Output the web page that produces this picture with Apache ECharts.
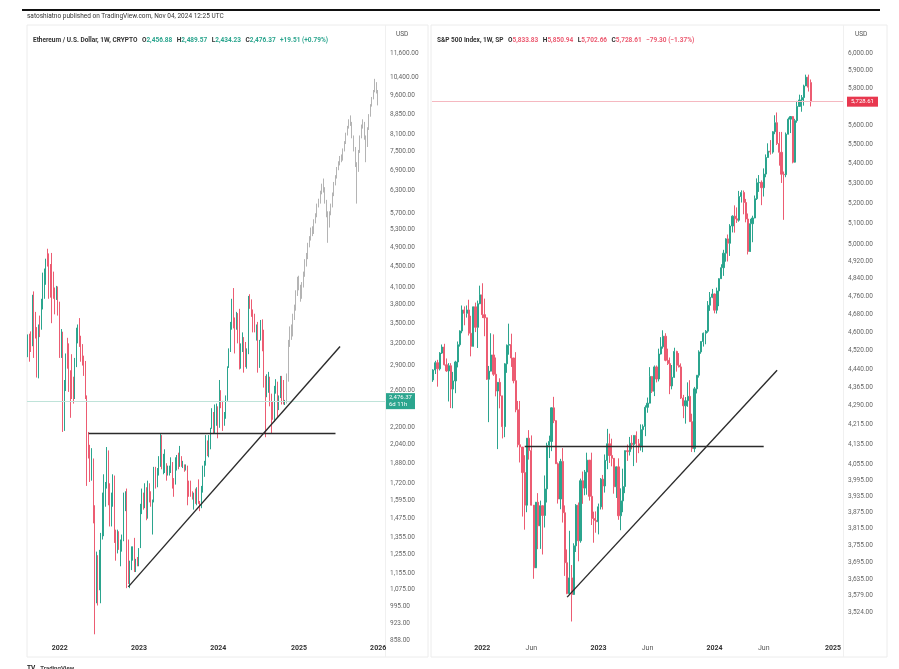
<!DOCTYPE html>
<html lang="en">
<head>
<meta charset="UTF-8">
<title>Ethereum vs S&amp;P 500, 1W</title>
<script src="https://cdn.jsdelivr.net/npm/echarts@6/dist/echarts.min.js"></script>
<style>
  html, body { margin: 0; padding: 0; background: #fff; }
  #main { width: 899px; height: 669px; }
</style>
</head>
<body>
<div id="main"></div>
<script>
// weekly candles, [open, close, low, high]
// ETH from week of 2021-08-09 to week of 2024-11-04
var ethWeeks = [
  [3160,3310,3010,3330],[3310,3240,2950,3340],[3240,3225,3080,3375],[3225,3930,3160,3970],
  [3930,3410,3000,4030],[3410,3330,3270,3680],[3330,3060,2750,3440],[3060,3420,2740,3480],
  [3420,3415,3290,3620],[3415,3850,3400,3900],[3850,4170,3720,4380],[4170,4290,3900,4460],
  [4290,4610,4150,4660],[4610,4570,4500,4870],[4570,4320,3900,4770],[4320,4290,3920,4550],
  [4290,4130,3500,4780],[4130,4060,3900,4400],[4060,3930,3640,4100],[3930,4060,3880,4130],
  [4060,3770,3620,4120],
  // 2022
  [3770,3150,3000,3850],[3150,3330,3000,3410],[3330,2540,2160,3370],[2540,2600,2170,2720],
  [2600,3040,2590,3060],[3040,2880,2860,3280],[2880,2630,2580,3200],[2630,2620,2300,2840],
  [2620,2570,2500,3050],[2570,2520,2450,2760],[2520,2900,2500,3000],[2900,3290,2880,3430],
  [3290,3450,3200,3480],[3450,3260,3150,3580],[3260,3060,2950,3310],[3060,2920,2900,3190],
  [2920,2830,2770,3030],[2830,2520,2500,2960],[2520,2060,1700,2540],[2060,1970,1920,2160],
  [1970,1790,1730,2040],[1790,1810,1740,2010],[1810,1450,1440,1920],[1450,1130,880,1560],
  [1130,1240,1010,1270],[1240,1070,1000,1250],[1070,1160,1070,1280],[1160,1360,1010,1380],
  [1360,1550,1340,1650],[1550,1680,1360,1790],[1680,1700,1550,1730],[1700,1980,1680,2020],
  [1980,1580,1560,1990],[1580,1490,1420,1720],[1490,1580,1420,1650],[1580,1720,1550,1790],
  [1720,1335,1320,1780],[1335,1315,1220,1400],[1315,1325,1260,1400],[1325,1300,1280,1390],
  [1300,1310,1190,1340],[1310,1360,1270,1370],[1360,1580,1330,1650],[1580,1630,1520,1660],
  [1630,1220,1080,1680],[1220,1140,1100,1340],[1140,1200,1080,1220],[1200,1260,1170,1300],
  [1260,1270,1220,1300],[1270,1190,1160,1350],[1190,1220,1160,1230],[1220,1195,1190,1240],
  // 2023
  [1195,1290,1190,1290],[1290,1550,1290,1570],[1550,1630,1500,1680],[1630,1570,1530,1650],
  [1570,1630,1540,1720],[1630,1520,1460,1690],[1520,1690,1470,1740],[1690,1640,1580,1720],
  [1640,1560,1550,1660],[1560,1590,1370,1600],[1590,1810,1580,1850],[1810,1740,1680,1850],
  [1740,1820,1690,1840],[1820,1860,1780,1940],[1860,2090,1850,2140],[2090,1860,1830,2130],
  [1860,1870,1790,1960],[1870,1870,1800,2000],[1870,1800,1740,1880],[1800,1810,1780,1860],
  [1810,1830,1780,1860],[1830,1880,1800,1930],[1880,1750,1680,1890],[1750,1720,1620,1760],
  [1720,1870,1710,1930],[1870,1950,1820,1950],[1950,1860,1830,1970],[1860,1920,1850,2030],
  [1920,1860,1850,1940],[1860,1860,1840,1900],[1860,1830,1810,1870],[1830,1850,1820,1870],
  [1850,1680,1560,1860],[1680,1650,1620,1740],[1650,1630,1620,1740],[1630,1620,1600,1660],
  [1620,1640,1530,1650],[1640,1590,1570,1680],[1590,1670,1560,1690],[1670,1580,1570,1750],
  [1580,1560,1520,1590],[1560,1660,1540,1700],[1660,1780,1650,1860],[1780,1890,1770,1900],
  [1890,2050,1860,2130],[2050,2010,1940,2080],[2010,2080,1930,2130],[2080,2190,2000,2200],
  [2190,2350,2190,2400],[2350,2220,2140,2360],[2220,2270,2150,2440],[2270,2350,2220,2450],
  // 2024
  [2350,2220,2100,2420],[2220,2490,2200,2720],[2490,2460,2400,2600],[2460,2270,2170,2480],
  [2270,2290,2220,2360],[2290,2510,2290,2540],[2510,2880,2480,2890],[2880,3110,2870,3130],
  [3110,3490,3080,3520],[3490,3880,3400,3900],[3880,3520,3420,4090],[3520,3450,3060,3590],
  [3450,3650,3400,3680],[3650,3450,3200,3660],[3450,3100,2850,3730],[3100,3150,2860,3200],
  [3150,3260,3080,3360],[3260,3140,2810,3290],[3140,2930,2880,3220],[2930,3070,2860,3130],
  [3070,3830,3050,3950],[3830,3780,3730,3980],[3780,3680,3600,3890],[3680,3620,3360,3720],
  [3620,3420,3360,3650],[3420,3430,3240,3480],[3430,3000,2810,3520],[3000,3240,2870,3250],
  [3240,3530,3240,3550],[3530,3280,3090,3560],[3280,2690,2630,3400],[2690,2560,2110,2770],
  [2560,2610,2520,2790],[2610,2750,2570,2820],[2750,2430,2420,2760],[2430,2340,2150,2560],
  [2340,2300,2280,2470],[2300,2580,2260,2650],[2580,2660,2560,2730],[2660,2440,2310,2700],
  [2440,2530,2380,2540],[2530,2750,2510,2770],[2750,2510,2440,2770],[2510,2460,2440,2720],
  [2456.88,2476.37,2434.23,2489.57]
];

// grey projected pattern drawn after the last ETH candle
var ethProjection = [
  [2480,2750,2450,2800],[2750,3200,2700,3250],[3200,3400,3150,3450],[3400,3350,3250,3480],
  [3350,3600,3300,3650],[3600,3750,3550,3800],[3750,4000,3700,4050],[4000,4250,3950,4300],
  [4250,4100,4050,4320],[4100,3950,3850,4150],[3950,4150,3900,4200],[4150,4350,4100,4400],
  [4350,4600,4300,4650],[4600,4700,4500,4780],[4700,4950,4650,5000],[4950,5100,4900,5150],
  [5100,5300,5050,5350],[5300,5250,5150,5380],[5250,5500,5200,5550],[5500,5650,5450,5700],
  [5650,5900,5600,5950],[5900,6000,5850,6080],[6000,6250,5950,6300],[6250,6450,6200,6500],
  [6450,6350,6250,6650],[6350,6000,5950,6400],[6000,5700,5600,6050],[5700,5400,5000,5750],
  [5400,5700,5350,5750],[5700,5900,5650,5950],[5900,6200,5850,6250],[6200,6500,6150,6550],
  [6500,6700,6450,6750],[6700,6950,6650,7000],[6950,7100,6900,7180],[7100,7300,7050,7350],
  [7300,7250,7150,7400],[7250,7550,7200,7600],[7550,7800,7500,7850],[7800,8100,7750,8150],
  [8100,8350,8050,8400],[8350,8600,8300,8650],[8600,8500,8400,8800],[8500,8000,7950,8550],
  [8000,7600,7500,8050],[7600,7100,7000,7650],[7100,6900,5950,7150],[6900,7500,6850,7550],
  [7500,8000,7450,8050],[8000,8400,7950,8450],[8400,8500,8300,8650],[8500,8000,7900,8550],
  [8000,7700,7150,8050],[7700,8300,7650,8350],[8300,8800,8250,8850],[8800,9200,8750,9250],
  [9200,9500,9150,9550],[9500,9800,9450,9850],[9800,10100,9750,10350],[10100,9800,9700,10200],
  [9800,9400,9200,9850]
];

// S&P 500 from week of 2021-08-02 to week of 2024-10-28
var spxWeeks = [
  [4395,4437,4387,4440],[4437,4468,4420,4476],[4468,4442,4367,4480],[4442,4509,4435,4513],
  [4509,4535,4505,4546],[4535,4459,4456,4549],[4459,4433,4429,4486],[4433,4455,4306,4466],
  [4455,4357,4279,4466],[4357,4391,4278,4429],[4391,4471,4340,4476],[4471,4545,4448,4559],
  [4545,4605,4537,4608],[4605,4698,4595,4718],[4698,4683,4630,4714],[4683,4698,4664,4718],
  [4698,4595,4585,4744],[4595,4538,4495,4672],[4538,4712,4537,4713],[4712,4621,4600,4731],
  [4621,4726,4531,4740],[4726,4766,4724,4808],
  // 2022
  [4766,4677,4662,4819],[4677,4663,4582,4749],[4663,4398,4395,4664],[4398,4432,4222,4454],
  [4432,4501,4431,4595],[4501,4419,4412,4590],[4419,4349,4327,4490],[4349,4385,4115,4386],
  [4385,4329,4278,4402],[4329,4204,4157,4327],[4204,4463,4162,4466],[4463,4543,4425,4546],
  [4543,4546,4502,4637],[4546,4488,4450,4593],[4488,4392,4381,4471],[4392,4272,4262,4513],
  [4272,4132,4122,4308],[4132,4123,4063,4308],[4123,4024,3859,4082],[4024,3901,3811,4091],
  [3901,4158,3875,4158],[4158,4109,4074,4190],[4109,3901,3900,4169],[3901,3675,3637,3839],
  [3675,3912,3716,3913],[3912,3825,3741,3946],[3825,3899,3742,3918],[3899,3863,3722,3876],
  [3863,3962,3819,4013],[3962,4130,3911,4140],[4130,4145,4080,4168],[4145,4280,4107,4281],
  [4280,4228,4218,4325],[4228,4058,4057,4203],[4058,3924,3907,4063],[3924,4067,3886,4077],
  [4067,3873,3837,4119],[3873,3693,3647,3900],[3693,3586,3584,3740],[3586,3640,3636,3807],
  [3640,3583,3492,3685],[3583,3753,3644,3762],[3753,3901,3731,3905],[3901,3771,3698,3911],
  [3771,3993,3764,4001],[3993,3965,3906,4028],[3965,4026,3938,4034],[4026,4072,3940,4101],
  [4072,3934,3918,4052],[3934,3852,3828,4101],[3852,3845,3764,3877],[3845,3840,3800,3878],
  // 2023
  [3840,3895,3794,3907],[3895,3999,3885,4003],[3999,3973,3885,4015],[3973,4071,3948,4094],
  [4071,4136,4037,4195],[4136,4090,4061,4176],[4090,4079,4048,4156],[4079,3970,3944,4052],
  [3970,4046,3928,4048],[4046,3862,3847,4079],[3862,3917,3809,3964],[3917,3971,3875,4039],
  [3971,4109,3946,4110],[4109,4105,4069,4133],[4105,4138,4090,4163],[4138,4133,4114,4170],
  [4133,4169,4049,4170],[4169,4136,4062,4185],[4136,4124,4099,4155],[4124,4192,4109,4213],
  [4192,4205,4103,4213],[4205,4282,4166,4290],[4282,4299,4260,4322],[4299,4410,4305,4449],
  [4410,4348,4341,4409],[4348,4450,4328,4456],[4450,4399,4385,4456],[4399,4505,4389,4528],
  [4505,4536,4503,4578],[4536,4582,4528,4608],[4582,4478,4474,4595],[4478,4464,4458,4528],
  [4464,4370,4336,4490],[4370,4406,4356,4458],[4406,4516,4404,4532],[4516,4457,4430,4519],
  [4457,4450,4448,4509],[4450,4320,4316,4465],[4320,4288,4238,4333],[4288,4309,4216,4324],
  [4309,4327,4284,4385],[4327,4224,4224,4394],[4224,4117,4104,4256],[4117,4358,4103,4366],
  [4358,4415,4339,4415],[4415,4514,4405,4521],[4514,4559,4506,4560],[4559,4595,4537,4598],
  [4595,4604,4547,4609],[4604,4719,4597,4738],[4719,4755,4694,4779],[4755,4770,4751,4793],
  // 2024
  [4770,4697,4683,4772],[4697,4784,4682,4799],[4784,4840,4715,4842],[4840,4891,4842,4907],
  [4891,4959,4853,4975],[4959,5027,4919,5030],[5027,5006,4920,5048],[5006,5089,4946,5098],
  [5089,5137,5058,5141],[5137,5124,5057,5190],[5124,5117,5104,5180],[5117,5234,5110,5262],
  [5234,5254,5204,5265],[5254,5204,5146,5264],[5204,5123,5107,5222],[5123,4967,4953,5150],
  [4967,5100,4990,5124],[5100,5128,5011,5139],[5128,5223,5127,5239],[5223,5303,5217,5325],
  [5303,5305,5257,5342],[5305,5278,5191,5315],[5278,5347,5234,5376],[5347,5432,5331,5448],
  [5432,5465,5432,5506],[5465,5460,5447,5523],[5460,5567,5452,5570],[5567,5615,5554,5655],
  [5615,5505,5497,5670],[5505,5459,5390,5566],[5459,5346,5302,5566],[5346,5344,5119,5360],
  [5344,5554,5331,5563],[5554,5634,5560,5643],[5634,5648,5560,5651],[5648,5408,5402,5651],
  [5408,5626,5406,5636],[5626,5703,5615,5733],[5703,5738,5703,5767],[5738,5751,5674,5765],
  [5751,5815,5707,5822],[5815,5864,5815,5878],[5864,5808,5784,5878],
  [5833.83,5728.61,5702.66,5850.94]
];

// price scale labels
var ethTicks = [11600, 10400, 9600, 8850, 8100, 7500, 6900, 6300, 5700, 5300, 4900, 4500,
  4100, 3800, 3500, 3200, 2900, 2600, 2200, 2040, 1880, 1720, 1595, 1475, 1355, 1255,
  1155, 1075, 995, 923, 858];
var spxTicks = [6000, 5900, 5800, 5600, 5500, 5400, 5300, 5200, 5100, 5000, 4920, 4840,
  4760, 4680, 4600, 4520, 4440, 4365, 4290, 4215, 4135, 4055, 3995, 3935, 3875, 3815,
  3755, 3695, 3635, 3579, 3524];

// drawn lines: [startWeek, startPrice, endWeek, endPrice]
var ethNeckline = [40, 2143, 202, 2143];
var ethTrend = [66, 1086, 205, 3155];
var spxNeckline = [41, 4127, 148, 4127];
var spxTrend = [60, 3574, 154, 4436];

var ethLast = 2476.37;
var spxLast = 5728.61;

function weekList(y, m, d, count) {
  var list = [];
  var t = Date.UTC(y, m - 1, d);
  for (var i = 0; i < count; i++) {
    list.push(new Date(t + i * 7 * 86400000).toISOString().slice(0, 10));
  }
  return list;
}
var ethDates = weekList(2021, 8, 9, 235);
var spxDates = weekList(2021, 8, 2, 184);

function tickName(value, months) {
  var d = new Date(value + 'T00:00:00Z');
  if (d.getUTCDate() > 7) return '';
  if (d.getUTCMonth() === 0) return '{y|' + d.getUTCFullYear() + '}';
  if (months && d.getUTCMonth() === 5) return '{m|Jun}';
  return '';
}

function fmtPrice(v) {
  return Math.round(v).toLocaleString('en-US', { minimumFractionDigits: 2, maximumFractionDigits: 2 });
}

var font = 'Roboto, "Noto Sans", sans-serif';
var up = '#2ba58e', down = '#ec5c72', grey = '#b4b4b4', ink = '#2b2b2b';

function xAxisFor(grid, dates, months) {
  return {
    type: 'category', gridIndex: grid, data: dates, boundaryGap: true,
    axisLine: { show: false }, axisTick: { show: false }, splitLine: { show: false },
    axisLabel: {
      interval: function (i, v) { return tickName(v, months) !== ''; },
      formatter: function (v) { return tickName(v, months); },
      margin: 5, fontFamily: font,
      rich: {
        y: { fontSize: 7, fontWeight: 'bold', color: '#333', fontFamily: font },
        m: { fontSize: 7, color: '#555', fontFamily: font }
      }
    }
  };
}

function yAxisFor(grid, lo, hi, ticks) {
  return {
    type: 'log', gridIndex: grid, min: lo, max: hi, position: 'right',
    axisLine: { show: false }, axisTick: { show: false }, splitLine: { show: false },
    axisLabel: {
      customValues: ticks, formatter: fmtPrice, margin: 5,
      fontSize: 6.5, color: '#666', fontFamily: font
    }
  };
}

function seg(s, style) {
  return [{ coord: [s[0], s[1]], lineStyle: style }, { coord: [s[2], s[3]] }];
}

var drawn = { color: ink, width: 1.4, type: 'solid' };

var greyData = ethWeeks.map(function () { return '-'; }).concat(ethProjection);

var chart = echarts.init(document.getElementById('main'));
chart.setOption({
  animation: false,
  backgroundColor: '#fff',
  title: [
    { text: 'satoshiatno published on TradingView.com, Nov 04, 2024 12:25 UTC', left: 27, top: 13, padding: 0,
      textStyle: { fontSize: 6.5, fontWeight: 'normal', color: '#333', fontFamily: font } },
    { text: '{n|Ethereum / U.S. Dollar, 1W, CRYPTO} {n|O}{g|2,456.88} {n|H}{g|2,489.57} {n|L}{g|2,434.23} {n|C}{g|2,476.37} {g|+19.51 (+0.79%)}',
      left: 33, top: 31, padding: 0,
      textStyle: { fontFamily: font, rich: {
        n: { fontSize: 6.5, color: '#333', fontFamily: font },
        g: { fontSize: 6.5, color: up, fontFamily: font } } } },
    { text: 'USD', left: 396, top: 31, padding: 0,
      textStyle: { fontSize: 6.5, fontWeight: 'normal', color: '#555', fontFamily: font } },
    { text: '{n|S&P 500 Index, 1W, SP} {n|O}{r|5,833.83} {n|H}{r|5,850.94} {n|L}{r|5,702.66} {n|C}{r|5,728.61} {r|\u221279.30 (\u22121.37%)}',
      left: 437, top: 31, padding: 0,
      textStyle: { fontFamily: font, rich: {
        n: { fontSize: 6.5, color: '#333', fontFamily: font },
        r: { fontSize: 6.5, color: down, fontFamily: font } } } },
    { text: 'USD', left: 855, top: 31, padding: 0,
      textStyle: { fontSize: 6.5, fontWeight: 'normal', color: '#555', fontFamily: font } },
    { text: '{b|TV} {t|TradingView}', left: 27, top: 659, padding: 0,
      textStyle: { rich: {
        b: { fontSize: 6.5, fontWeight: 'bold', color: '#222', fontFamily: font },
        t: { fontSize: 6, color: '#444', fontFamily: font } } } }
  ],
  graphic: [
    { type: 'line', shape: { x1: 22, y1: 10, x2: 880, y2: 10 }, style: { stroke: '#111', lineWidth: 2 } },
    { type: 'rect', shape: { x: 27, y: 25, width: 401, height: 632 }, style: { fill: 'none', stroke: '#ececec', lineWidth: 1 } },
    { type: 'rect', shape: { x: 431, y: 25, width: 456, height: 632 }, style: { fill: 'none', stroke: '#ececec', lineWidth: 1 } },
    { type: 'line', shape: { x1: 385.5, y1: 25, x2: 385.5, y2: 657 }, style: { stroke: '#f0f0f0', lineWidth: 1 } },
    { type: 'line', shape: { x1: 843.5, y1: 25, x2: 843.5, y2: 657 }, style: { stroke: '#f0f0f0', lineWidth: 1 } }
  ],
  grid: [
    { left: 27, top: 28, width: 358, height: 612 },
    { left: 432, top: 28, width: 411, height: 612 }
  ],
  xAxis: [xAxisFor(0, ethDates, false), xAxisFor(1, spxDates, true)],
  yAxis: [yAxisFor(0, 858, 12970, ethTicks), yAxisFor(1, 3431, 6145, spxTicks)],
  series: [
    {
      name: 'ETHUSD', type: 'candlestick', xAxisIndex: 0, yAxisIndex: 0,
      data: ethWeeks, barWidth: '85%',
      itemStyle: { color: up, color0: down, borderColor: up, borderColor0: down, borderWidth: 1 },
      markLine: {
        silent: true, symbol: ['none', 'none'], animation: false,
        label: { show: false }, lineStyle: drawn,
        data: [
          { yAxis: ethLast, lineStyle: { color: '#bfe3d9', width: 1, type: 'solid' },
            label: { show: true, position: 'end', distance: 1, formatter: '2,476.37\n6d 11h',
              backgroundColor: up, color: '#fff', fontSize: 6, lineHeight: 7,
              padding: [1, 3], fontFamily: font } },
          seg(ethNeckline, drawn),
          seg(ethTrend, drawn)
        ]
      }
    },
    {
      name: 'Projection', type: 'candlestick', xAxisIndex: 0, yAxisIndex: 0,
      data: greyData, barWidth: '85%',
      itemStyle: { color: grey, color0: grey, borderColor: grey, borderColor0: grey, borderWidth: 1 }
    },
    {
      name: 'SPX', type: 'candlestick', xAxisIndex: 1, yAxisIndex: 1,
      data: spxWeeks, barWidth: '75%',
      itemStyle: { color: up, color0: down, borderColor: up, borderColor0: down, borderWidth: 1 },
      markLine: {
        silent: true, symbol: ['none', 'none'], animation: false,
        label: { show: false }, lineStyle: drawn,
        data: [
          { yAxis: spxLast, lineStyle: { color: '#f5b8c0', width: 1, type: 'solid' },
            label: { show: true, position: 'end', distance: 4, formatter: '5,728.61',
              backgroundColor: '#e8384f', color: '#fff', fontSize: 6, lineHeight: 8,
              padding: [1, 4], fontFamily: font } },
          seg(spxNeckline, drawn),
          seg(spxTrend, drawn)
        ]
      }
    }
  ]
});
</script>
</body>
</html>
